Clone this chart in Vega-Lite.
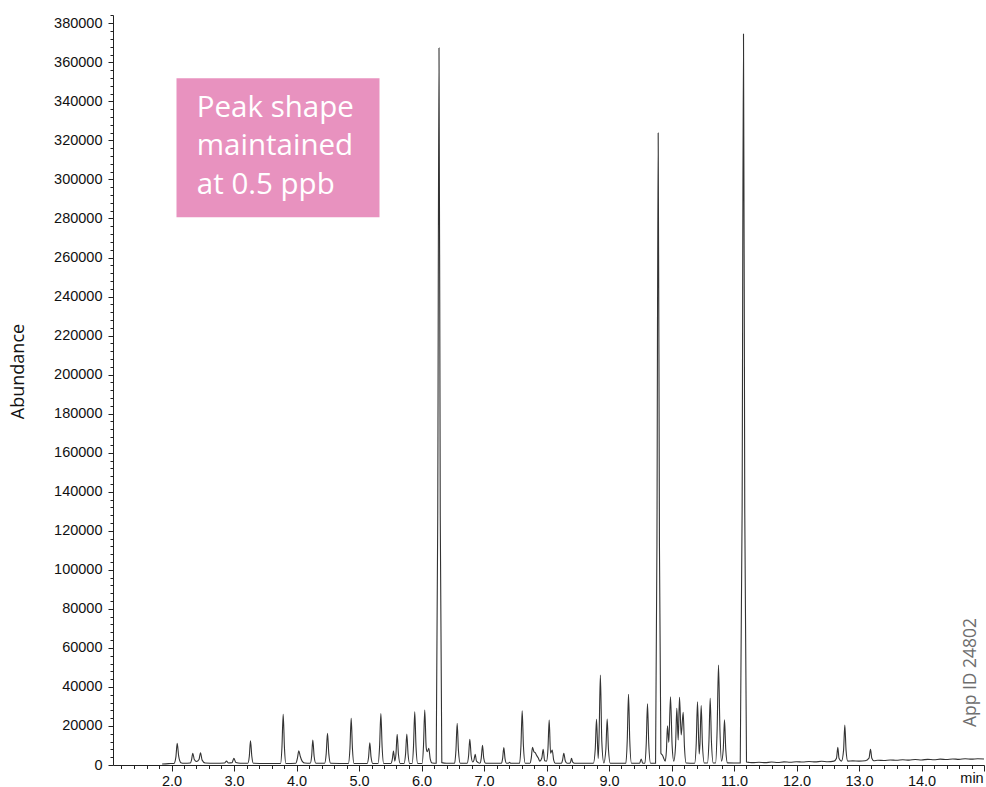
{
  "$schema": "https://vega.github.io/schema/vega-lite/v6.json",
  "width": 871,
  "height": 750,
  "autosize": {"type": "none"},
  "padding": {"left": 113, "top": 15, "right": 2, "bottom": 22},
  "background": "white",
  "config": {
    "view": {"stroke": null},
    "axis": {"labelFont": "Liberation Sans", "titleFont": "Liberation Sans", "labelColor": "#111", "domainColor": "#222", "tickColor": "#222", "grid": false}
  },
  "layer": [
    {
      "data": {"values": [
        {"t":1.85,"a":500},{"t":1.95,"a":700},{"t":2.04,"a":800},{"t":2.07,"a":4000},{"t":2.091,"a":11100},{"t":2.115,"a":4500},{"t":2.15,"a":1200},{"t":2.2,"a":900},
        {"t":2.3,"a":1000},{"t":2.32,"a":2500},{"t":2.341,"a":6000},{"t":2.365,"a":2800},{"t":2.4,"a":1800},{"t":2.44,"a":2800},{"t":2.464,"a":6300},{"t":2.49,"a":2500},{"t":2.54,"a":1000},
        {"t":2.7,"a":900},{"t":2.85,"a":1000},{"t":2.88,"a":2000},{"t":2.91,"a":1000},{"t":2.97,"a":1200},{"t":2.997,"a":3400},{"t":3.03,"a":1300},{"t":3.1,"a":900},
        {"t":3.22,"a":900},{"t":3.245,"a":4500},{"t":3.264,"a":12400},{"t":3.285,"a":4500},{"t":3.31,"a":900},{"t":3.5,"a":800},
        {"t":3.745,"a":800},{"t":3.767,"a":9000},{"t":3.787,"a":26000},{"t":3.807,"a":9000},{"t":3.83,"a":800},
        {"t":3.99,"a":900},{"t":4.015,"a":3500},{"t":4.037,"a":7300},{"t":4.06,"a":4500},{"t":4.09,"a":2000},{"t":4.13,"a":1000},
        {"t":4.22,"a":900},{"t":4.242,"a":4500},{"t":4.261,"a":12800},{"t":4.282,"a":4500},{"t":4.31,"a":900},
        {"t":4.45,"a":900},{"t":4.475,"a":5700},{"t":4.496,"a":16200},{"t":4.517,"a":5700},{"t":4.545,"a":900},
        {"t":4.83,"a":800},{"t":4.855,"a":8400},{"t":4.875,"a":23900},{"t":4.895,"a":8400},{"t":4.92,"a":800},
        {"t":5.13,"a":800},{"t":5.153,"a":4000},{"t":5.173,"a":11400},{"t":5.193,"a":4000},{"t":5.22,"a":800},
        {"t":5.305,"a":800},{"t":5.329,"a":9200},{"t":5.35,"a":26300},{"t":5.37,"a":9200},{"t":5.395,"a":800},
        {"t":5.51,"a":800},{"t":5.532,"a":2700},{"t":5.552,"a":7200},{"t":5.573,"a":2000},{"t":5.591,"a":5500},{"t":5.611,"a":15700},{"t":5.631,"a":5500},{"t":5.66,"a":800},
        {"t":5.72,"a":800},{"t":5.745,"a":5600},{"t":5.765,"a":15900},{"t":5.785,"a":5600},{"t":5.81,"a":800},
        {"t":5.85,"a":800},{"t":5.872,"a":9500},{"t":5.892,"a":27200},{"t":5.912,"a":9500},{"t":5.94,"a":800},
        {"t":6.01,"a":800},{"t":6.032,"a":9900},{"t":6.052,"a":28200},{"t":6.075,"a":9000},{"t":6.091,"a":6800},{"t":6.117,"a":8500},{"t":6.14,"a":3000},{"t":6.17,"a":1000},
        {"t":6.235,"a":900},{"t":6.26,"a":128000},{"t":6.28,"a":367300},{"t":6.3,"a":128000},{"t":6.325,"a":1200},{"t":6.4,"a":900},
        {"t":6.53,"a":900},{"t":6.551,"a":7500},{"t":6.571,"a":21400},{"t":6.591,"a":7500},{"t":6.62,"a":900},
        {"t":6.73,"a":900},{"t":6.753,"a":4600},{"t":6.773,"a":13200},{"t":6.795,"a":4600},{"t":6.82,"a":1500},{"t":6.839,"a":2500},{"t":6.859,"a":5500},{"t":6.88,"a":2000},
        {"t":6.935,"a":900},{"t":6.956,"a":3500},{"t":6.976,"a":10100},{"t":6.996,"a":3500},{"t":7.025,"a":900},
        {"t":7.28,"a":900},{"t":7.297,"a":3100},{"t":7.317,"a":8900},{"t":7.337,"a":3100},{"t":7.36,"a":900},
        {"t":7.39,"a":900},{"t":7.408,"a":1400},{"t":7.43,"a":900},
        {"t":7.57,"a":900},{"t":7.591,"a":9700},{"t":7.611,"a":27800},{"t":7.631,"a":9700},{"t":7.66,"a":900},
        {"t":7.735,"a":900},{"t":7.756,"a":3500},{"t":7.776,"a":9100},{"t":7.8,"a":6700},{"t":7.819,"a":6300},{"t":7.845,"a":4800},{"t":7.867,"a":3700},{"t":7.893,"a":2000},
        {"t":7.925,"a":3600},{"t":7.947,"a":8000},{"t":7.97,"a":2200},{"t":8.0,"a":2000},{"t":8.023,"a":8000},{"t":8.043,"a":23000},{"t":8.065,"a":6000},{"t":8.091,"a":7700},{"t":8.115,"a":2500},{"t":8.14,"a":900},
        {"t":8.24,"a":900},{"t":8.257,"a":2500},{"t":8.277,"a":6000},{"t":8.3,"a":2200},{"t":8.33,"a":900},
        {"t":8.37,"a":900},{"t":8.385,"a":1500},{"t":8.4,"a":3400},{"t":8.42,"a":1500},{"t":8.45,"a":900},
        {"t":8.75,"a":900},{"t":8.78,"a":8200},{"t":8.8,"a":23400},{"t":8.827,"a":3400},{"t":8.842,"a":16000},{"t":8.862,"a":46100},{"t":8.885,"a":12000},{"t":8.917,"a":1000},
        {"t":8.95,"a":8200},{"t":8.971,"a":23600},{"t":8.991,"a":8200},{"t":9.02,"a":900},
        {"t":9.27,"a":900},{"t":9.292,"a":12700},{"t":9.312,"a":36200},{"t":9.332,"a":12700},{"t":9.36,"a":900},
        {"t":9.49,"a":900},{"t":9.515,"a":3100},{"t":9.54,"a":900},
        {"t":9.575,"a":900},{"t":9.596,"a":11000},{"t":9.616,"a":31400},{"t":9.636,"a":11000},{"t":9.665,"a":900},
        {"t":9.745,"a":900},{"t":9.767,"a":113000},{"t":9.787,"a":323800},{"t":9.807,"a":113000},{"t":9.83,"a":6000},{"t":9.856,"a":5000},{"t":9.9,"a":2000},
        {"t":9.918,"a":7000},{"t":9.936,"a":20100},{"t":9.957,"a":11600},{"t":9.984,"a":35000},{"t":10.01,"a":10000},{"t":10.037,"a":2000},
        {"t":10.065,"a":10000},{"t":10.085,"a":29000},{"t":10.107,"a":12800},{"t":10.128,"a":34700},{"t":10.155,"a":15400},{"t":10.187,"a":27000},{"t":10.207,"a":9500},{"t":10.235,"a":1000},
        {"t":10.37,"a":900},{"t":10.396,"a":11300},{"t":10.416,"a":32400},{"t":10.443,"a":5600},{"t":10.455,"a":10600},{"t":10.475,"a":30400},{"t":10.495,"a":10600},{"t":10.525,"a":1000},
        {"t":10.575,"a":1000},{"t":10.599,"a":12000},{"t":10.619,"a":34200},{"t":10.639,"a":12000},{"t":10.668,"a":1000},
        {"t":10.705,"a":1000},{"t":10.73,"a":18000},{"t":10.752,"a":51200},{"t":10.775,"a":18000},{"t":10.8,"a":2000},
        {"t":10.828,"a":8000},{"t":10.848,"a":23100},{"t":10.868,"a":8000},{"t":10.895,"a":1100},
        {"t":11.1,"a":1000},{"t":11.13,"a":131000},{"t":11.152,"a":374500},{"t":11.172,"a":131000},{"t":11.2,"a":1500},{"t":11.25,"a":1300},
        {"t":11.3,"a":1200},{"t":11.4,"a":1400},{"t":11.5,"a":1200},{"t":11.6,"a":1500},{"t":11.7,"a":1300},{"t":11.8,"a":1600},{"t":11.9,"a":1400},
        {"t":12.0,"a":1700},{"t":12.1,"a":1500},{"t":12.2,"a":1800},{"t":12.3,"a":1600},{"t":12.4,"a":1900},{"t":12.5,"a":1700},{"t":12.6,"a":2000},
        {"t":12.64,"a":3500},{"t":12.661,"a":9100},{"t":12.68,"a":3500},{"t":12.72,"a":2000},{"t":12.753,"a":7500},{"t":12.773,"a":20500},{"t":12.793,"a":7500},{"t":12.82,"a":2000},
        {"t":12.9,"a":2100},{"t":13.0,"a":2000},{"t":13.1,"a":2200},{"t":13.16,"a":3500},{"t":13.184,"a":8000},{"t":13.205,"a":3500},{"t":13.24,"a":2200},
        {"t":13.3,"a":2400},{"t":13.4,"a":2300},{"t":13.5,"a":2600},{"t":13.6,"a":2400},{"t":13.7,"a":2700},{"t":13.8,"a":2500},{"t":13.9,"a":2800},
        {"t":14.0,"a":2600},{"t":14.1,"a":2900},{"t":14.2,"a":2700},{"t":14.3,"a":3000},{"t":14.4,"a":2800},{"t":14.5,"a":3100},{"t":14.6,"a":2900},{"t":14.7,"a":3200},{"t":14.8,"a":3000},{"t":14.9,"a":3200},{"t":15.0,"a":3100}
      ]},
      "mark": {"type": "line", "color": "#333333", "strokeWidth": 1.1, "interpolate": "monotone"},
      "encoding": {
        "x": {
          "field": "t", "type": "quantitative",
          "scale": {"domain": [1.064, 15.0], "nice": false, "zero": false},
          "axis": {
            "title": null,
            "tickCount": 500,
            "values": [1.2,1.4,1.6,1.8,2,2.2,2.4,2.6,2.8,3,3.2,3.4,3.6,3.8,4,4.2,4.4,4.6,4.8,5,5.2,5.4,5.6,5.8,6,6.2,6.4,6.6,6.8,7,7.2,7.4,7.6,7.8,8,8.2,8.4,8.6,8.8,9,9.2,9.4,9.6,9.8,10,10.2,10.4,10.6,10.8,11,11.2,11.4,11.6,11.8,12,12.2,12.4,12.6,12.8,13,13.2,13.4,13.6,13.8,14,14.2,14.4,14.6,14.8,15],
            "labelExpr": "abs(datum.value - 14.8) < 0.001 ? 'min' : ((abs(datum.value - round(datum.value)) < 0.001 && datum.value >= 2 && datum.value <= 14) ? format(datum.value, '.1f') : '')",
            "labelOverlap": false,
            "labelFlush": false,
            "labelFontSize": 14.5,
            "labelPadding": 3,
            "tickSize": {"condition": {"test": "abs(datum.value - round(datum.value)) < 0.001", "value": 6}, "value": 3.5}
          }
        },
        "y": {
          "field": "a", "type": "quantitative",
          "scale": {"domain": [0, 384250], "nice": false, "zero": true},
          "axis": {
            "title": "Abundance",
            "tickCount": 500,
            "titleFont": "Open Sans",
            "titleFontSize": 18,
            "titleFontWeight": "normal",
            "titleColor": "#111",
            "titleX": -95,
            "titleY": 356,
            "titleAlign": "center",
            "titleBaseline": "middle",
            "values": [0,4000,8000,12000,16000,20000,24000,28000,32000,36000,40000,44000,48000,52000,56000,60000,64000,68000,72000,76000,80000,84000,88000,92000,96000,100000,104000,108000,112000,116000,120000,124000,128000,132000,136000,140000,144000,148000,152000,156000,160000,164000,168000,172000,176000,180000,184000,188000,192000,196000,200000,204000,208000,212000,216000,220000,224000,228000,232000,236000,240000,244000,248000,252000,256000,260000,264000,268000,272000,276000,280000,284000,288000,292000,296000,300000,304000,308000,312000,316000,320000,324000,328000,332000,336000,340000,344000,348000,352000,356000,360000,364000,368000,372000,376000,380000,384000],
            "labelExpr": "(datum.value % 20000 == 0 && datum.value <= 380000) ? format(datum.value, 'd') : ''",
            "labelOverlap": false,
            "labelFlush": false,
            "labelFontSize": 14.5,
            "labelPadding": 6,
            "tickSize": {"condition": {"test": "datum.value % 20000 == 0", "value": 5}, "value": 3}
          }
        }
      }
    },
    {
      "data": {"values": [{"x1": 2.08, "x2": 5.328, "y1": 280600, "y2": 351800}]},
      "mark": {"type": "rect", "color": "#E892BF", "opacity": 1},
      "encoding": {
        "x": {"field": "x1", "type": "quantitative"},
        "x2": {"field": "x2"},
        "y": {"field": "y1", "type": "quantitative"},
        "y2": {"field": "y2"}
      }
    },
    {
      "data": {"values": [{"tx": 2.405, "ty": 332100, "label": "Peak shape\nmaintained\nat 0.5 ppb"}]},
      "mark": {"type": "text", "color": "white", "font": "Open Sans", "fontSize": 29.5, "lineHeight": 38.5, "align": "left", "baseline": "alphabetic", "lineBreak": "\n"},
      "encoding": {
        "x": {"field": "tx", "type": "quantitative"},
        "y": {"field": "ty", "type": "quantitative"},
        "text": {"field": "label"}
      }
    },
    {
      "data": {"values": [{"tx": 14.784, "ty": 47400, "label": "App ID 24802"}]},
      "mark": {"type": "text", "color": "#6e6e6e", "font": "Open Sans", "fontSize": 17.5, "angle": 270, "align": "center", "baseline": "middle"},
      "encoding": {
        "x": {"field": "tx", "type": "quantitative"},
        "y": {"field": "ty", "type": "quantitative"},
        "text": {"field": "label"}
      }
    }
  ]
}
